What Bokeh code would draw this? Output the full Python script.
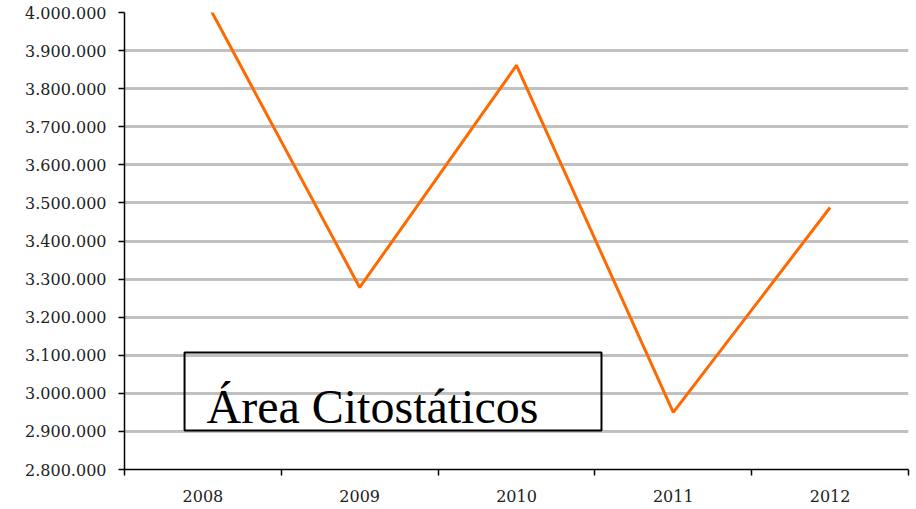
from bokeh.plotting import figure
from bokeh.models import Range1d, FixedTicker, CustomJSTickFormatter, BoxAnnotation, Label
from bokeh.embed import file_html
from bokeh.resources import INLINE

years = ["2008", "2009", "2010", "2011", "2012"]
values = [4045000, 3278000, 3861000, 2950000, 3488000]
y_ticks = [2800000, 2900000, 3000000, 3100000, 3200000, 3300000, 3400000,
           3500000, 3600000, 3700000, 3800000, 3900000, 4000000]
title_text = "Área Citostáticos"

xs = [i + 0.5 for i in range(len(years))]

p = figure(width=910, height=505, output_backend="svg", toolbar_location=None,
           x_range=Range1d(0, len(years)), y_range=Range1d(y_ticks[0], y_ticks[-1]),
           min_border_left=124, min_border_right=2, min_border_top=12, min_border_bottom=36)
p.outline_line_color = None
p.background_fill_color = "white"
p.border_fill_color = "white"

p.line(xs, values, line_color="#ff6a00", line_width=3)

# y axis
p.yaxis.ticker = FixedTicker(ticks=y_ticks)
p.yaxis.formatter = CustomJSTickFormatter(code="""
    return Math.round(tick).toString().replace(/\\B(?=(\\d{3})+(?!\\d))/g, '.');
""")
p.yaxis.axis_line_color = "black"
p.yaxis.axis_line_width = 1.5
p.yaxis.major_tick_out = 6
p.yaxis.major_tick_in = 0
p.yaxis.minor_tick_line_color = None
p.yaxis.major_tick_line_width = 1.5
p.yaxis.major_label_text_font = "DejaVu Serif"
p.yaxis.major_label_text_font_size = "16px"
p.yaxis.major_label_text_color = "#222222"
p.yaxis.major_label_standoff = 12

# x axis
p.xaxis.ticker = FixedTicker(ticks=xs, minor_ticks=list(range(len(years) + 1)))
p.xaxis.major_label_overrides = {x: y for x, y in zip(xs, years)}
p.xaxis.major_tick_out = 0
p.xaxis.major_tick_in = 0
p.xaxis.minor_tick_out = 6
p.xaxis.minor_tick_in = 0
p.xaxis.minor_tick_line_color = "black"
p.xaxis.minor_tick_line_width = 1.5
p.xaxis.axis_line_color = "black"
p.xaxis.axis_line_width = 1.5
p.xaxis.major_label_text_font = "DejaVu Serif"
p.xaxis.major_label_text_font_size = "16px"
p.xaxis.major_label_text_color = "#222222"
p.xaxis.major_label_standoff = 14

p.xgrid.grid_line_color = None
p.ygrid.grid_line_color = "#c0c0c0"
p.ygrid.grid_line_width = 3

box = BoxAnnotation(left=0.383, right=3.042, bottom=2902400, top=3107200,
                    fill_alpha=0, line_color="black", line_width=2, line_alpha=1)
p.add_layout(box)
lab = Label(x=0.523, y=2965400, text=title_text, text_font="Liberation Serif",
            text_font_size="48px", text_color="black", text_baseline="alphabetic")
p.add_layout(lab)

open("out.html", "w").write(file_html(p, INLINE))
